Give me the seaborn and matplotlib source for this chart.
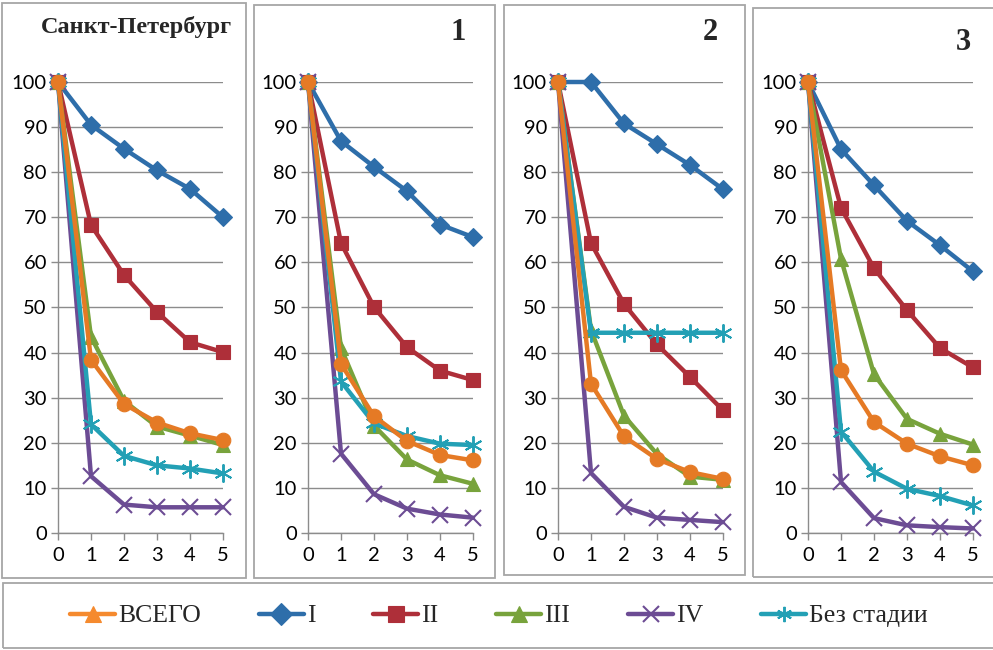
import matplotlib
matplotlib.use("Agg")
import matplotlib.pyplot as plt
from matplotlib.patches import Rectangle
from matplotlib.lines import Line2D
import seaborn as sns
import pandas as pd

# Years since diagnosis
years = [0, 1, 2, 3, 4, 5]

series_names = ["ВСЕГО", "I", "II", "III", "IV", "Без стадии"]
panel_titles = ["Санкт-Петербург", "1", "2", "3"]

# Санкт-Петербург
spb_total = [100, 38.4, 28.6, 24.5, 22.1, 20.6]
spb_I = [100, 90.5, 85.2, 80.4, 76.3, 70.0]
spb_II = [100, 68.3, 57.2, 49.0, 42.3, 40.1]
spb_III = [100, 43.5, 29.3, 23.6, 21.6, 19.5]
spb_IV = [100, 12.6, 6.3, 5.7, 5.7, 5.7]
spb_nostage = [100, 24.1, 17.1, 15.0, 14.3, 13.2]

# Group 1
g1_total = [100, 37.5, 25.9, 20.4, 17.3, 16.1]
g1_I = [100, 86.9, 81.2, 75.8, 68.4, 65.6]
g1_II = [100, 64.3, 50.1, 41.2, 36.0, 33.9]
g1_III = [100, 41.0, 23.8, 16.3, 12.8, 10.9]
g1_IV = [100, 17.6, 8.6, 5.4, 4.1, 3.4]
g1_nostage = [100, 33.6, 24.3, 21.5, 19.8, 19.5]

# Group 2
g2_total = [100, 33.1, 21.4, 16.4, 13.5, 12.0]
g2_I = [100, 100, 90.8, 86.2, 81.6, 76.2]
g2_II = [100, 64.3, 50.8, 41.8, 34.6, 27.2]
g2_III = [100, 45.0, 26.0, 17.5, 12.5, 11.8]
g2_IV = [100, 13.3, 5.8, 3.4, 2.9, 2.4]
g2_nostage = [100, 44.4, 44.4, 44.4, 44.4, 44.4]

# Group 3
g3_total = [100, 36.1, 24.6, 19.8, 17.0, 15.0]
g3_I = [100, 85.1, 77.1, 69.2, 63.8, 58.0]
g3_II = [100, 72.1, 58.7, 49.4, 41.0, 36.7]
g3_III = [100, 60.8, 35.2, 25.3, 22.0, 19.6]
g3_IV = [100, 11.3, 3.3, 1.7, 1.3, 1.0]
g3_nostage = [100, 22.5, 13.6, 9.8, 8.2, 6.1]

panels = [
    [spb_total, spb_I, spb_II, spb_III, spb_IV, spb_nostage],
    [g1_total, g1_I, g1_II, g1_III, g1_IV, g1_nostage],
    [g2_total, g2_I, g2_II, g2_III, g2_IV, g2_nostage],
    [g3_total, g3_I, g3_II, g3_III, g3_IV, g3_nostage],
]

colors = {
    "ВСЕГО": "#E57A25",
    "I": "#2E6EAA",
    "II": "#AE2F39",
    "III": "#78A33C",
    "IV": "#6C4C94",
    "Без стадии": "#23A0B5",
}
markers = {
    "ВСЕГО": "o",
    "I": "D",
    "II": "s",
    "III": "^",
    "IV": "x",
    "Без стадии": (6, 2, 0),
}
legend_markers = dict(markers)
legend_markers["ВСЕГО"] = "^"
legend_colors = dict(colors)
legend_colors["ВСЕГО"] = "#F58A2E"
msize = {"ВСЕГО": 10.5, "I": 9.5, "II": 10.5, "III": 10.5, "IV": 12, "Без стадии": 13}
mew = {"ВСЕГО": 0.8, "I": 0.8, "II": 0.8, "III": 0.8, "IV": 1.5, "Без стадии": 1.4}

sns.set_theme(style="white")
plt.rcParams["font.family"] = ["Lato", "DejaVu Sans"]

W, H = 993, 650
fig = plt.figure(figsize=(W / 100, H / 100), dpi=100)


def fx(px):
    return px / W


def fy(py):
    return 1 - py / H


grid_col = "#8C8C8C"
box_col = "#A6A6A6"

# panel frames (left, top, right, bottom) in pixels
frames = [(2, 3, 246, 578), (254, 5, 495, 578), (504, 5, 745, 575), (753, 8, 1010, 577)]
axis_left = [58, 308, 558, 808]
title_pos = [(136, 27, 17.5), (458, 32, 22), (710, 32, 22), (963, 42, 22)]

for i, (l, t, r, b) in enumerate(frames):
    fig.add_artist(Rectangle((fx(l), fy(b)), fx(r - l), (b - t) / H, transform=fig.transFigure,
                             fill=False, edgecolor=box_col, linewidth=1.3))

draw_order = ["I", "II", "III", "IV", "Без стадии", "ВСЕГО"]

for i, data in enumerate(panels):
    ax = fig.add_axes([fx(axis_left[i]), fy(533), fx(165), 451 / H])
    df = pd.DataFrame({"year": years * len(series_names),
                       "value": [v for s in data for v in s],
                       "series": [n for n in series_names for _ in years]})
    for name in draw_order:
        sub = df[df["series"] == name]
        sns.lineplot(data=sub, x="year", y="value", ax=ax, color=colors[name],
                     linewidth=3.2, marker=markers[name], markersize=msize[name],
                     markeredgecolor=colors[name], markerfacecolor=colors[name],
                     markeredgewidth=mew[name], clip_on=False, zorder=3, legend=False)
    ax.set_xlim(0, 5)
    ax.set_ylim(0, 100)
    ax.set_xticks(years)
    ax.set_yticks(range(0, 101, 10))
    ax.set_xlabel("")
    ax.set_ylabel("")
    ax.yaxis.grid(True, color=grid_col, linewidth=1.0)
    ax.xaxis.grid(False)
    for s in ("top", "right"):
        ax.spines[s].set_visible(False)
    for s in ("left", "bottom"):
        ax.spines[s].set_color(grid_col)
        ax.spines[s].set_linewidth(1.0)
    ax.tick_params(axis="both", which="major", length=5, width=1.0, color=grid_col,
                   labelsize=14.5, labelcolor="black", direction="out")
    ax.tick_params(axis="y", pad=3, left=True)
    ax.tick_params(axis="x", pad=5, bottom=True)
    ax.set_facecolor("none")
    ax.patch.set_alpha(0)

    tx, ty, fs = title_pos[i]
    fig.text(fx(tx), fy(ty), panel_titles[i], ha="center", va="center",
             fontsize=fs, fontweight="bold", family=["Liberation Serif", "DejaVu Serif"])

# legend frame
fig.add_artist(Rectangle((fx(3), fy(648)), fx(1010), 65 / H, transform=fig.transFigure,
                         fill=False, edgecolor=box_col, linewidth=1.3))

handles = [Line2D([0], [0], color=legend_colors[n], linewidth=3.2, marker=legend_markers[n],
                  markersize=11, markeredgecolor=legend_colors[n], markerfacecolor=legend_colors[n],
                  markeredgewidth=mew[n])
           for n in series_names]
fig.legend(handles, series_names, loc="center", bbox_to_anchor=(fx(499), fy(616)), ncol=6,
           frameon=False, handlelength=1.75, handletextpad=0.12, columnspacing=2.25,
           prop={"family": "Liberation Serif", "size": 18.5})

fig.savefig("out.png", dpi=100)
